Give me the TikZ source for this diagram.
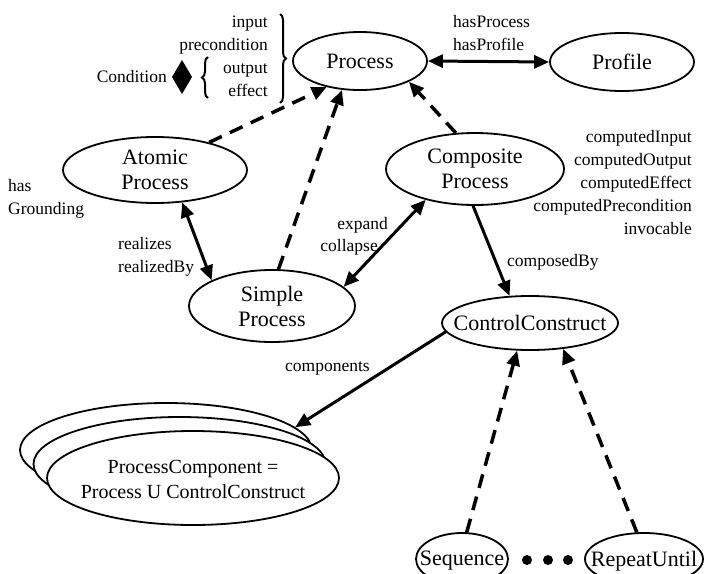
\documentclass[tikz,border=0pt]{standalone}
\usepackage{fontspec}
\setmainfont{Liberation Serif}
\usetikzlibrary{arrows.meta,shapes.geometric,decorations.pathreplacing}

\begin{document}
\begin{tikzpicture}[x=1pt,y=-1pt,
  cls/.style={ellipse, draw, line width=1.8pt, fill=white, inner sep=0pt},
  txt/.style={inner sep=0pt, align=center, font=\fontsize{22}{25}\selectfont},
  lbl/.style={inner sep=0pt, font=\fontsize{17.5}{23}\selectfont},
  tip/.style={-{Triangle[length=15pt,width=13pt]}},
  rel/.style={line width=3pt, tip},
  birel/.style={line width=3pt, {Triangle[length=15pt,width=13pt]}-{Triangle[length=15pt,width=13pt]}},
  isa/.style={line width=3.5pt, dash pattern=on 14pt off 9pt, tip},
  brc/.style={decorate, decoration={brace, amplitude=6pt}, line width=2pt},
]
\useasboundingbox (0,0) rectangle (706,573);

% classes: outline ellipses of fixed size, names set on top
\node[cls, minimum width=134pt, minimum height=58pt] (proc) at (360,61) {};
\node[txt] (procT) at (proc) {Process};
\node[cls, minimum width=144pt, minimum height=58pt] (prof) at (622,62) {};
\node[txt] (profT) at (prof) {Profile};
\node[cls, minimum width=184pt, minimum height=66pt] (atomic) at (155,170) {};
\node[txt] (atomicT) at (atomic) {Atomic\\Process};
\node[cls, minimum width=166pt, minimum height=72pt] (simple) at (272,306) {};
\node[txt] (simpleT) at (simple) {Simple\\Process};
\node[cls, minimum width=178pt, minimum height=72pt] (comp) at (475,169) {};
\node[txt] (compT) at (comp) {Composite\\Process};
\node[cls, minimum width=176pt, minimum height=54pt] (cc) at (530,323) {};
\node[txt] (ccT) at (cc) {ControlConstruct};

% stacked process components
\node[cls, minimum width=292pt, minimum height=94pt] (pcback) at (166,450) {};
\node[cls, minimum width=292pt, minimum height=94pt] (pcmid) at (179.5,464) {};
\node[cls, minimum width=292pt, minimum height=94pt] (pc) at (193,478) {};
\node[txt, font=\fontsize{20}{25}\selectfont] (pcT) at (193,479)
  {ProcessComponent =\\Process U ControlConstruct};

\node[cls, minimum width=92pt, minimum height=52pt] (seq) at (462,559) {};
\node[txt] (seqT) at (462,561) {Sequence};
\node[cls, minimum width=118pt, minimum height=52pt] (rep) at (644,559) {};
\node[txt] (repT) at (644,561) {RepeatUntil};
\foreach \x [count=\i] in {527,548,568}
  \fill (\x,560) circle (5pt) coordinate (dot\i);

% condition block
\node[lbl, align=right, anchor=east] (ioPE) at (268,56.5)
  {input\\precondition\\output\\effect};
\draw[brc] (280,14) -- (280,103);
\draw[brc] (208,98) -- (208,57);
\fill (182,60) -- (192,77) -- (182,94) -- (172,77) -- cycle;
\node[lbl, anchor=east] (cond) at (167,77) {Condition};

% labels
\node[lbl, align=left, anchor=west] (hp) at (453,33.5) {hasProcess\\hasProfile};
\node[lbl, align=left, anchor=west] (hg) at (8,198.5) {has\\Grounding};
\node[lbl, align=left, anchor=west] (rz) at (118,256.5) {realizes\\realizedBy};
\node[lbl, anchor=east] (ex) at (388,225) {expand};
\node[lbl, anchor=east] (co) at (378,247) {collapse};
\node[lbl, align=right, anchor=east] (cpt) at (692,183)
  {computedInput\\computedOutput\\computedEffect\\computedPrecondition\\invocable};
\node[lbl, anchor=west] (cb) at (507,262) {composedBy};
\node[lbl, anchor=west] (cm) at (285,368) {components};

% relations
\draw[birel] (proc.east) -- (prof.west);
\draw[isa] (atomic.27) -- (proc.218);
\draw[isa] (simple.80) -- (proc.238);
\draw[isa] (comp.118) -- (proc.337);
\draw[birel] (atomic.310) -- (simple.157);
\draw[birel] (simple.15) -- (comp.212);
\draw[rel] (comp.267) -- (cc.127);
\draw[rel] (cc.186) -- (pcback.10);
\draw[isa] (seq.80) -- (cc.245);
\draw[isa] (rep.105) -- (cc.322);
\end{tikzpicture}
\end{document}
